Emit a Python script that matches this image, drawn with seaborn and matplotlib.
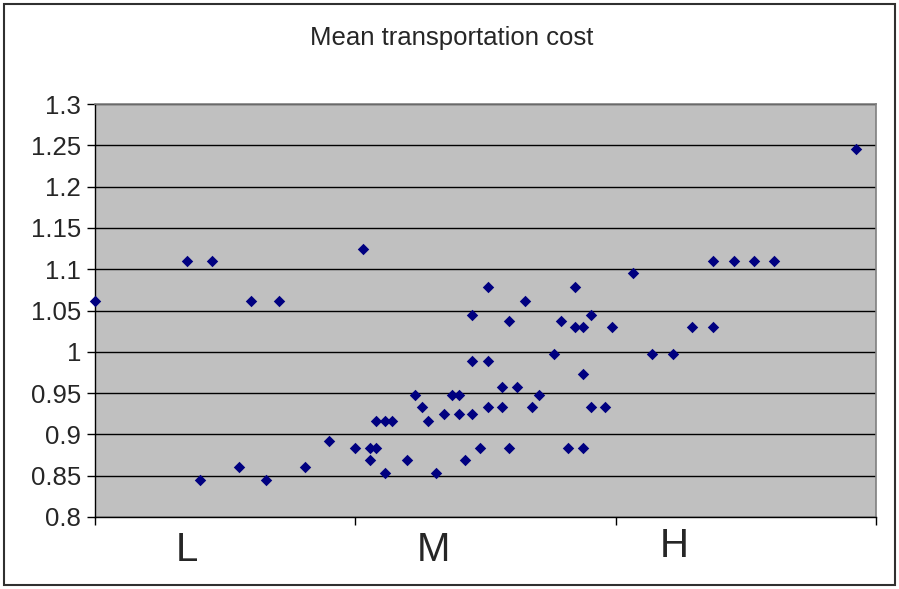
import numpy as np
import pandas as pd
import matplotlib
matplotlib.use("Agg")
import matplotlib.pyplot as plt
import seaborn as sns
from matplotlib.patches import Rectangle

# data (x position along the axis, mean cost)
x = [0.0, 7.1, 8.1, 9.0, 11.1, 12.0, 13.1, 14.1, 16.1, 18.0,
     20.0, 20.6, 21.1, 21.1, 21.6, 21.6, 22.3, 22.3, 22.8, 24.0,
     24.6, 25.1, 25.6, 26.2, 26.8, 27.4, 28.0, 28.0, 28.4, 29.0,
     29.0, 29.0, 29.6, 30.2, 30.2, 30.2, 31.3, 31.3, 31.8, 31.8,
     32.4, 33.0, 33.6, 34.1, 35.3, 35.8, 36.3, 36.9, 36.9, 37.5,
     37.5, 37.5, 38.1, 38.1, 39.2, 39.7, 41.3, 42.8, 44.4, 45.9,
     47.5, 47.5, 49.1, 50.6, 52.2, 58.5]
cost = [1.062, 1.11, 0.845, 1.11, 0.86, 1.062, 0.845, 1.062, 0.86, 0.892,
        0.884, 1.125, 0.884, 0.869, 0.916, 0.884, 0.916, 0.853, 0.916, 0.869,
        0.948, 0.933, 0.916, 0.853, 0.925, 0.948, 0.948, 0.925, 0.869, 1.045,
        0.989, 0.925, 0.884, 1.078, 0.989, 0.933, 0.957, 0.933, 1.037, 0.884,
        0.957, 1.062, 0.933, 0.948, 0.997, 1.037, 0.884, 1.078, 1.03, 1.03,
        0.973, 0.884, 1.045, 0.933, 0.933, 1.03, 1.095, 0.997, 0.997, 1.03,
        1.11, 1.03, 1.11, 1.11, 1.11, 1.246]
title = "Mean transportation cost"
groups = ["L", "M", "H"]
yticks = [0.8, 0.85, 0.9, 0.95, 1.0, 1.05, 1.1, 1.15, 1.2, 1.25, 1.3]

df = pd.DataFrame({"x": x, "cost": cost})

sns.set_style("white")
plt.rcParams["font.family"] = ["Liberation Sans", "DejaVu Sans"]

fig = plt.figure(figsize=(8.99, 5.89), dpi=100)
ax = fig.add_axes([95/899, 1-517/589, 781/899, 413/589])
ax.set_facecolor("#C0C0C0")

sns.scatterplot(x="x", y="cost", data=df, marker="D", color="#000080",
                s=34, linewidth=0, ax=ax, zorder=3, clip_on=False)

ax.set_xlim(0, 60)
ax.set_ylim(0.8, 1.3)
ax.set_xticks([0, 20, 40, 60])
ax.set_xticklabels([])
ax.set_yticks(yticks)
ax.set_yticklabels([f"{v:g}" for v in yticks], fontsize=18.5)
ax.set_xlabel("")
ax.set_ylabel("")
ax.tick_params(axis="both", direction="out", length=6, width=1, color="black",
               left=True, bottom=True, pad=4)
ax.yaxis.grid(True, color="black", linewidth=1)
ax.xaxis.grid(False)
ax.set_axisbelow(True)
for side in ["left", "bottom"]:
    ax.spines[side].set_color("black")
    ax.spines[side].set_linewidth(1)
for side in ["top", "right"]:
    ax.spines[side].set_visible(True)
    ax.spines[side].set_color("#808080")
    ax.spines[side].set_linewidth(1.2)

fig.text(452/899, 1-38/589, title, ha="center", va="center", fontsize=18.5)
for lab, px, py in zip(groups, [187, 433, 674], [561, 561, 557]):
    fig.text(px/899, 1-py/589, lab, ha="center", va="baseline", fontsize=29)

fig.patches.append(Rectangle((4/899, 4/589), 891/899, 581/589,
                             transform=fig.transFigure, fill=False,
                             edgecolor="#303030", linewidth=1.5))

plt.savefig("out.png", dpi=100)
